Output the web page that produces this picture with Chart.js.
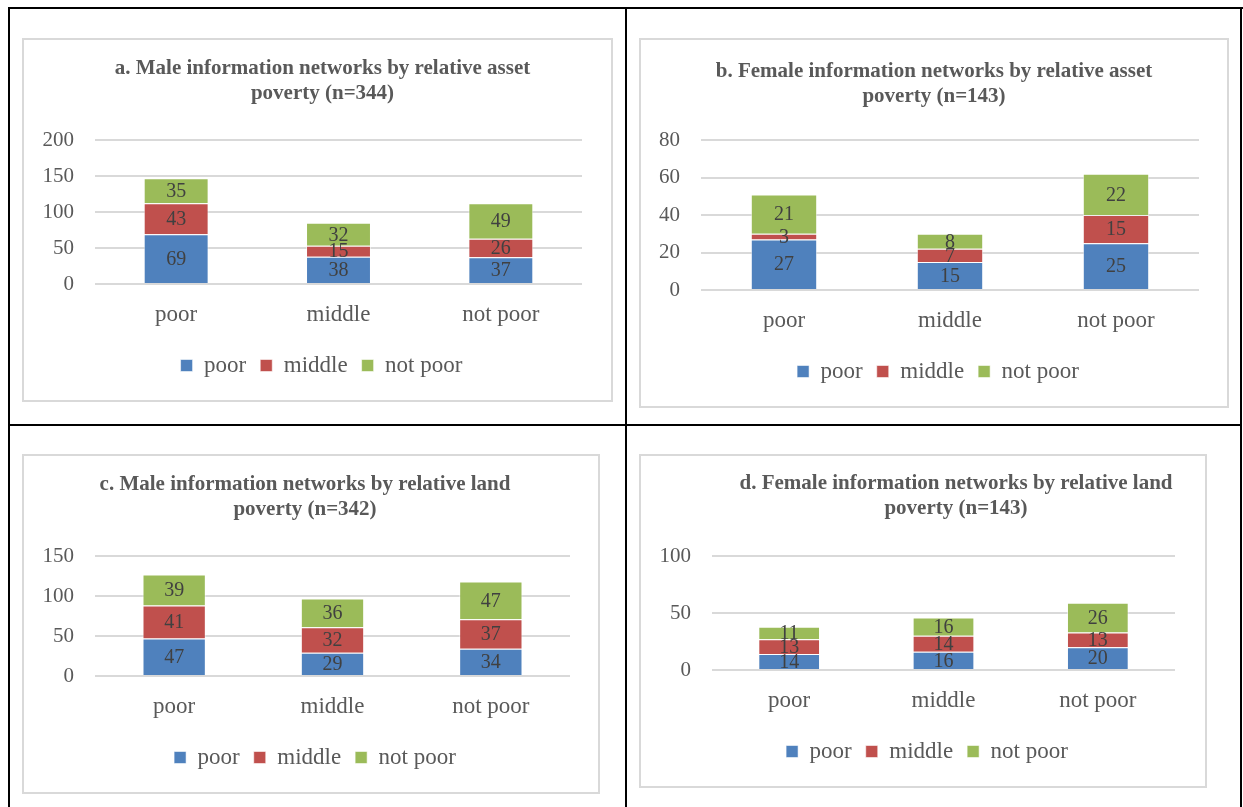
<!DOCTYPE html>
<html>
<head>
<meta charset="utf-8">
<script src="https://cdn.jsdelivr.net/npm/chart.js@4/dist/chart.umd.min.js"></script>
<style>
  html, body { margin: 0; padding: 0; background: #fff; }
  body { width: 1243px; height: 807px; position: relative; overflow: hidden; }
  .rule { position: absolute; background: #000; }
  .panel { position: absolute; box-sizing: border-box; border: 2px solid #d9d9d9; background: #fff; }
  .panel canvas { display: block; }
</style>
</head>
<body>
<!-- table rules -->
<div class="rule" style="left:8px;top:7px;width:1235px;height:2px"></div>
<div class="rule" style="left:8px;top:7px;width:2px;height:800px"></div>
<div class="rule" style="left:1240px;top:7px;width:2px;height:800px"></div>
<div class="rule" style="left:625px;top:7px;width:2px;height:800px"></div>
<div class="rule" style="left:8px;top:424px;width:1234px;height:2px"></div>

<div class="panel" style="left:22px;top:38px;width:591px;height:364px"><canvas id="chartA" width="587" height="360"></canvas></div>
<div class="panel" style="left:639px;top:38px;width:590px;height:370px"><canvas id="chartB" width="586" height="366"></canvas></div>
<div class="panel" style="left:22px;top:454px;width:578px;height:340px"><canvas id="chartC" width="574" height="336"></canvas></div>
<div class="panel" style="left:639px;top:454px;width:568px;height:334px"><canvas id="chartD" width="564" height="330"></canvas></div>

<script>
// Categories and series shared by all four panels
const categories = ['poor', 'middle', 'not poor'];
const seriesNames = ['poor', 'middle', 'not poor'];
const seriesColors = ['#4F81BD', '#C0504D', '#9BBB59'];

// a. Male, asset poverty
const titleA = ['a. Male information networks by relative asset', 'poverty (n=344)'];
const aPoor = [69, 38, 37];
const aMiddle = [43, 15, 26];
const aNotPoor = [35, 32, 49];
const aTicks = [0, 50, 100, 150, 200];

// b. Female, asset poverty
const titleB = ['b. Female information networks by relative asset', 'poverty (n=143)'];
const bPoor = [27, 15, 25];
const bMiddle = [3, 7, 15];
const bNotPoor = [21, 8, 22];
const bTicks = [0, 20, 40, 60, 80];

// c. Male, land poverty
const titleC = ['c. Male information networks by relative land', 'poverty (n=342)'];
const cPoor = [47, 29, 34];
const cMiddle = [41, 32, 37];
const cNotPoor = [39, 36, 47];
const cTicks = [0, 50, 100, 150];

// d. Female, land poverty
const titleD = ['d. Female information networks by relative land', 'poverty (n=143)'];
const dPoor = [14, 16, 20];
const dMiddle = [13, 14, 13];
const dNotPoor = [11, 16, 26];
const dTicks = [0, 50, 100];

const SERIF = '"Liberation Serif", "Times New Roman", serif';

// Two-line bold heading drawn above the plot
const headingPlugin = {
  id: 'heading',
  afterDraw(chart, args, opts) {
    const ctx = chart.ctx;
    ctx.save();
    ctx.font = 'bold 21px ' + SERIF;
    ctx.fillStyle = '#595959';
    ctx.textAlign = 'center';
    ctx.textBaseline = 'middle';
    const cx = chart.width / 2 + (opts.dx || 0);
    opts.lines.forEach((line, i) => ctx.fillText(line, cx, opts.y + i * opts.gap));
    ctx.restore();
  }
};

// Value labels centred in each stacked segment
const segmentLabels = {
  id: 'segmentLabels',
  afterDatasetsDraw(chart) {
    const ctx = chart.ctx;
    ctx.save();
    ctx.font = '20px ' + SERIF;
    ctx.fillStyle = '#404040';
    ctx.textAlign = 'center';
    ctx.textBaseline = 'middle';
    chart.data.datasets.forEach((ds, di) => {
      const meta = chart.getDatasetMeta(di);
      meta.data.forEach((bar, i) => {
        ctx.fillText(String(ds.data[i]), bar.x, (bar.y + bar.base) / 2 + 1);
      });
    });
    ctx.restore();
  }
};

function makePanel(id, title, series, ticks, box) {
  const datasets = series.map((vals, k) => ({
    label: seriesNames[k],
    data: vals,
    backgroundColor: seriesColors[k],
    borderColor: 'rgba(255,255,255,0.55)',
    borderWidth: 1,
    categoryPercentage: 0.4,
    barPercentage: 1
  }));
  return new Chart(document.getElementById(id), {
    type: 'bar',
    data: { labels: categories, datasets },
    plugins: [headingPlugin, segmentLabels],
    options: {
      responsive: false,
      animation: false,
      devicePixelRatio: 1,
      layout: { padding: { top: 100, left: 8, right: 0, bottom: box.bottom } },
      plugins: {
        heading: { lines: title, y: box.titleY, gap: 25, dx: box.titleDx },
        title: { display: false },
        tooltip: { enabled: false },
        legend: {
          position: 'bottom',
          labels: {
            boxWidth: 12, boxHeight: 12, padding: 14,
            color: '#595959',
            font: { family: SERIF, size: 23 }
          }
        }
      },
      scales: {
        x: {
          stacked: true,
          grid: { display: false, drawTicks: false },
          border: { display: false },
          ticks: { color: '#595959', padding: 17, font: { family: SERIF, size: 23 } },
          afterFit(scale) { scale.height = 56; }
        },
        y: {
          stacked: true,
          min: ticks[0],
          max: ticks[ticks.length - 1],
          afterBuildTicks(scale) { scale.ticks = ticks.map(v => ({ value: v })); },
          grid: { color: '#d9d9d9', lineWidth: 2, drawTicks: false },
          border: { display: false },
          ticks: { color: '#595959', padding: 21, font: { family: SERIF, size: 21 } },
          afterFit(scale) { scale.width = box.yw; }
        },
        // empty right-hand gutter between the plot and the frame
        gutter: {
          type: 'linear',
          axis: 'y',
          position: 'right',
          grid: { display: false, drawTicks: false },
          border: { display: false },
          ticks: { display: false },
          afterFit(scale) { scale.width = box.gutter; }
        }
      }
    }
  });
}

makePanel('chartA', titleA, [aPoor, aMiddle, aNotPoor], aTicks, { yw: 63, gutter: 29, bottom: 13, titleY: 29, titleDx: 5 });
makePanel('chartB', titleB, [bPoor, bMiddle, bNotPoor], bTicks, { yw: 52, gutter: 28, bottom: 13, titleY: 32, titleDx: 0 });
makePanel('chartC', titleC, [cPoor, cMiddle, cNotPoor], cTicks, { yw: 63, gutter: 28, bottom: 13, titleY: 29, titleDx: -6 });
makePanel('chartD', titleD, [dPoor, dMiddle, dNotPoor], dTicks, { yw: 63, gutter: 30, bottom: 13, titleY: 28, titleDx: 33 });
</script>
</body>
</html>
